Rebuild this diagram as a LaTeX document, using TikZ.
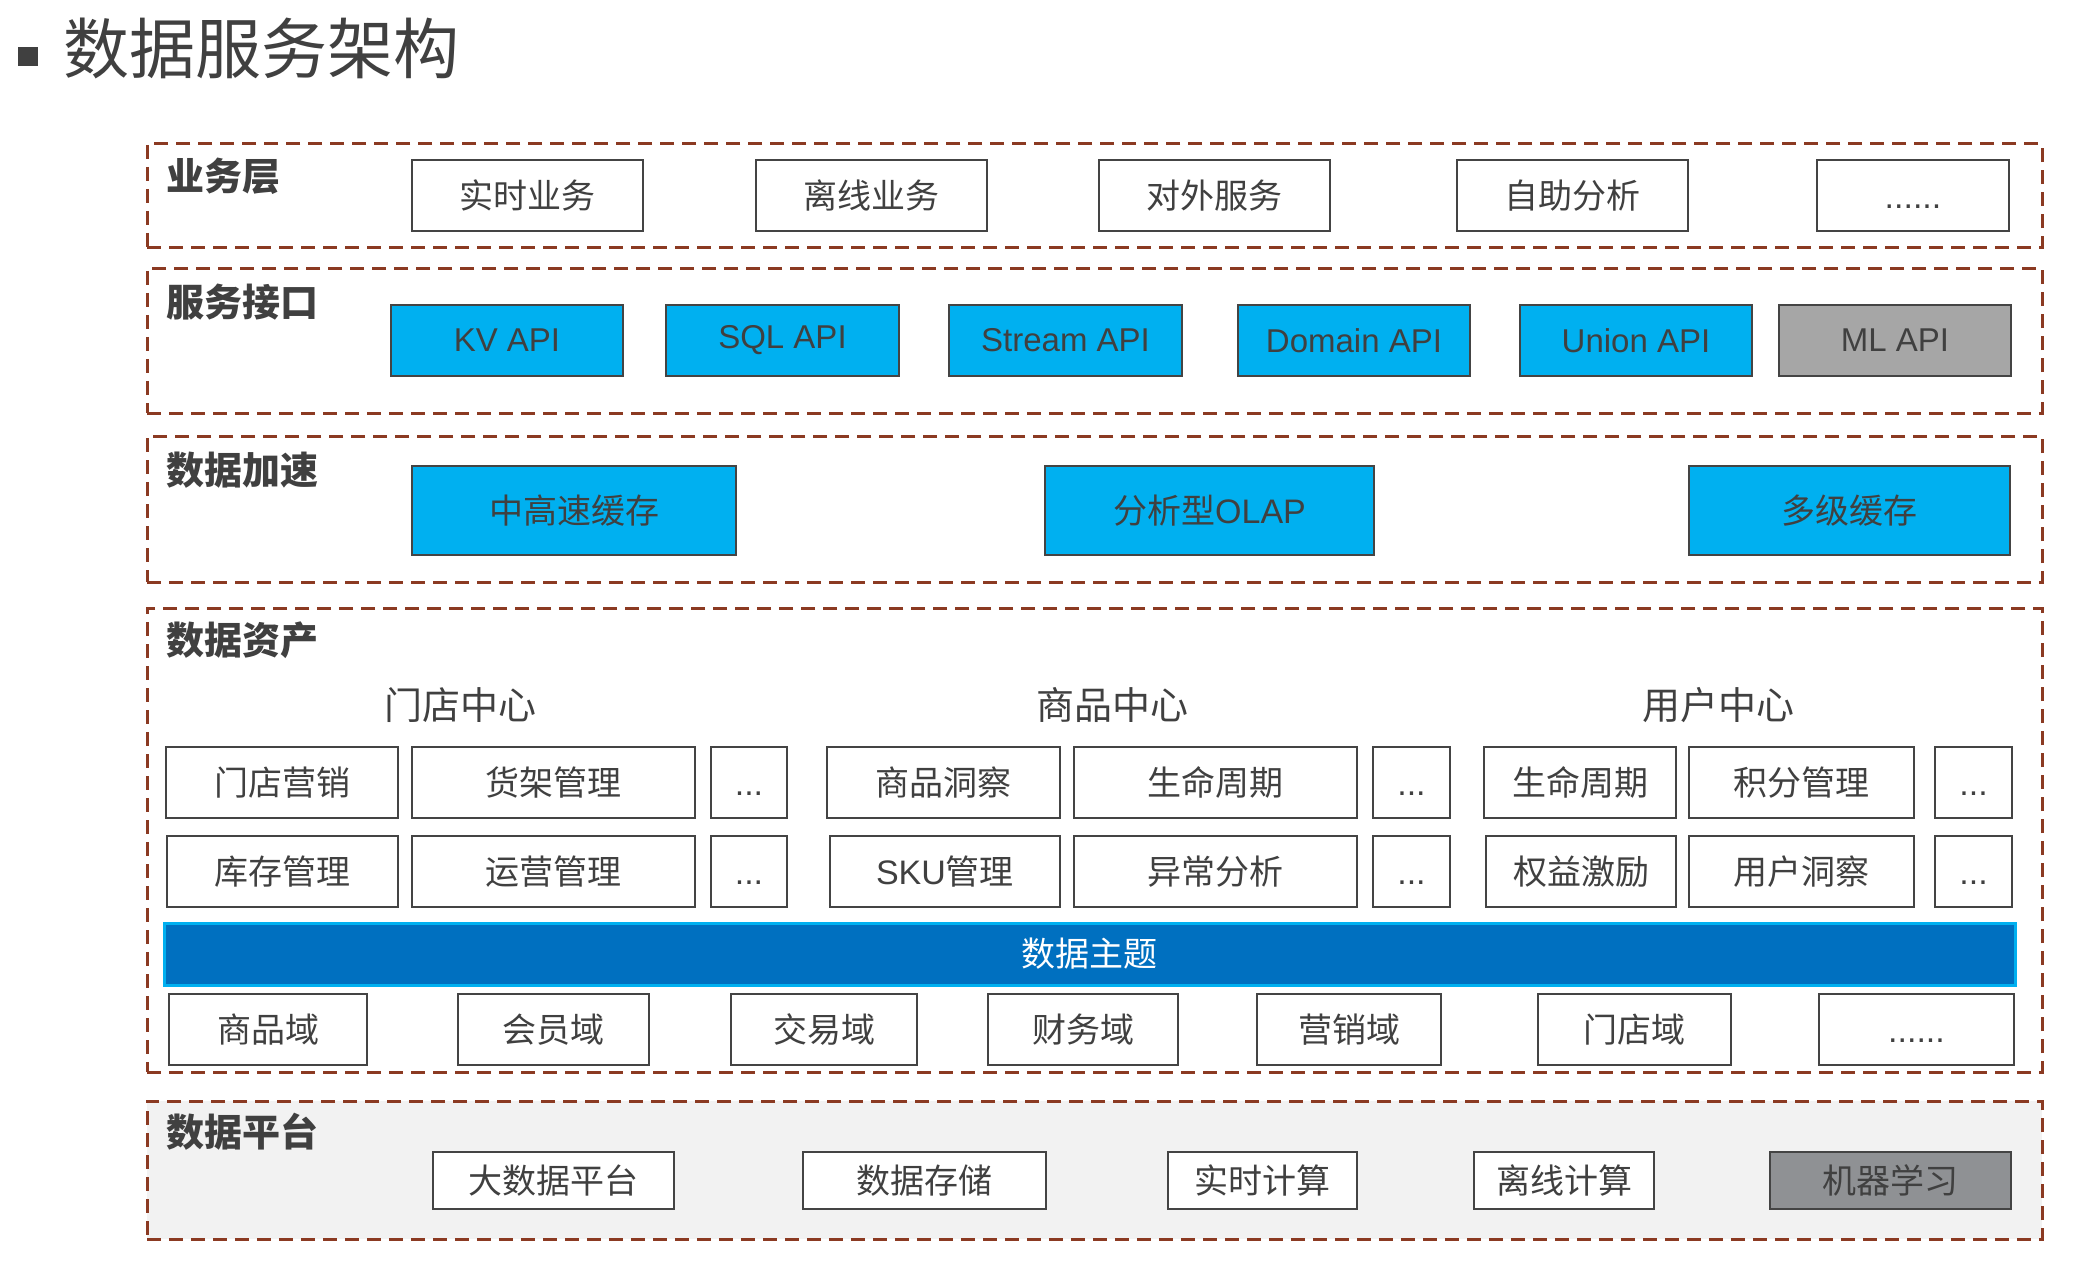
\documentclass[tikz,border=0pt]{standalone}
\usepackage{fontspec}
\setmainfont{Liberation Sans}
\newfontfamily\cjk{Noto Sans CJK SC}
\definecolor{layerc}{HTML}{8B3A22}
\definecolor{boxc}{HTML}{444444}
\definecolor{txt}{HTML}{404040}
\definecolor{bluec}{HTML}{00B0F0}
\definecolor{mlgray}{HTML}{A6A6A6}
\definecolor{mgray}{HTML}{8F9194}
\definecolor{platf}{HTML}{F2F2F2}
\definecolor{barf}{HTML}{0070C0}
\newcommand\mkbox[7]{\node[#6, minimum width={(#4-#2)*0.5pt}, minimum height={(#5-#3)*0.5pt}] (#1) at ({(#2+#4)/2},{(#3+#5)/2}) {#7};}
\newcommand\dotz[1]{{\fontspec{Liberation Sans}#1}}
\newcommand\ellip[1]{\vphantom{理}{\fontspec{Liberation Sans}#1}}
\tikzset{
  layer/.style={draw=layerc, line width=1.5pt, dash pattern=on 7pt off 4pt, inner sep=0pt, outer sep=0pt},
  bx/.style={draw=boxc, line width=1.3pt, fill=white, text=txt, font=\fontsize{17}{20}\selectfont\cjk, inner sep=0pt, outer sep=0pt},
  api/.style={bx, fill=bluec, font=\fontsize{16.5}{20}\selectfont},
  acc/.style={bx, fill=bluec},
  lab/.style={text=txt, font=\fontsize{19}{22}\selectfont\cjk\bfseries, inner sep=0pt, anchor=west},
  ctr/.style={text=txt, font=\fontsize{19}{22}\selectfont\cjk, inner sep=0pt},
  bar/.style={draw=bluec, line width=1.5pt, fill=barf, text=white, font=\fontsize{17}{20}\selectfont\cjk, inner sep=0pt, outer sep=0pt}
}
\begin{document}
\begin{tikzpicture}[x=0.5pt,y=-0.5pt]
\useasboundingbox (0,0) rectangle (2084,1268);
\fill[white] (0,0) rectangle (2084,1268);
% title
\mkbox{tsq}{18}{47}{38}{66}{fill=txt, inner sep=0pt}{}
\node[text=txt, font=\fontsize{33}{38}\selectfont\cjk, inner sep=0pt, anchor=west] (title) at (63,48) {数据服务架构};
% layers
\mkbox{L1}{147}{144}{2042}{247}{layer}{}
\mkbox{L2}{147}{268}{2042}{413}{layer}{}
\mkbox{L3}{147}{436}{2042}{582}{layer}{}
\mkbox{L4}{147}{608}{2042}{1072}{layer}{}
\mkbox{L5}{147}{1101}{2042}{1239}{layer, fill=platf}{}
\node[lab] (l1t) at (166,176) {业务层};
\node[lab] (l2t) at (166,302) {服务接口};
\node[lab] (l3t) at (166,470) {数据加速};
\node[lab] (l4t) at (166,640) {数据资产};
\node[lab] (l5t) at (166,1132) {数据平台};
% layer 1
\mkbox{b1}{412}{160}{643}{231}{bx}{实时业务}
\mkbox{b2}{756}{160}{987}{231}{bx}{离线业务}
\mkbox{b3}{1099}{160}{1330}{231}{bx}{对外服务}
\mkbox{b4}{1457}{160}{1688}{231}{bx}{自助分析}
\mkbox{b5}{1817}{160}{2009}{231}{bx}{\ellip{......}}
% layer 2
\mkbox{a1}{391}{305}{623}{376}{api}{KV API}
\mkbox{a2}{666}{305}{899}{376}{api}{SQL API}
\mkbox{a3}{949}{305}{1182}{376}{api}{Stream API}
\mkbox{a4}{1238}{305}{1470}{376}{api}{Domain API}
\mkbox{a5}{1520}{305}{1752}{376}{api}{Union API}
\mkbox{a6}{1779}{305}{2011}{376}{api, fill=mlgray}{ML API}
% layer 3
\mkbox{c1}{412}{466}{736}{555}{acc}{中高速缓存}
\mkbox{c2}{1045}{466}{1374}{555}{acc}{分析型\dotz{OLAP}}
\mkbox{c3}{1689}{466}{2010}{555}{acc}{多级缓存}
% layer 4 centres
\node[ctr] (g1) at (460,705) {门店中心};
\node[ctr] (g2) at (1112,705) {商品中心};
\node[ctr] (g3) at (1718,705) {用户中心};
% row 1
\mkbox{r11}{166}{747}{398}{818}{bx}{门店营销}
\mkbox{r12}{412}{747}{695}{818}{bx}{货架管理}
\mkbox{r13}{711}{747}{787}{818}{bx}{\ellip{...}}
\mkbox{r14}{827}{747}{1060}{818}{bx}{商品洞察}
\mkbox{r15}{1074}{747}{1357}{818}{bx}{生命周期}
\mkbox{r16}{1373}{747}{1450}{818}{bx}{\ellip{...}}
\mkbox{r17}{1484}{747}{1676}{818}{bx}{生命周期}
\mkbox{r18}{1689}{747}{1914}{818}{bx}{积分管理}
\mkbox{r19}{1935}{747}{2012}{818}{bx}{\ellip{...}}
% row 2
\mkbox{r21}{167}{836}{398}{907}{bx}{库存管理}
\mkbox{r22}{412}{836}{695}{907}{bx}{运营管理}
\mkbox{r23}{711}{836}{787}{907}{bx}{\ellip{...}}
\mkbox{r24}{830}{836}{1060}{907}{bx}{\dotz{SKU}管理}
\mkbox{r25}{1074}{836}{1357}{907}{bx}{异常分析}
\mkbox{r26}{1373}{836}{1450}{907}{bx}{\ellip{...}}
\mkbox{r27}{1486}{836}{1676}{907}{bx}{权益激励}
\mkbox{r28}{1689}{836}{1914}{907}{bx}{用户洞察}
\mkbox{r29}{1935}{836}{2012}{907}{bx}{\ellip{...}}
% bar
\mkbox{theme}{164}{923}{2015}{985}{bar}{数据主题}
% domains
\mkbox{d1}{169}{994}{367}{1065}{bx}{商品域}
\mkbox{d2}{458}{994}{649}{1065}{bx}{会员域}
\mkbox{d3}{731}{994}{917}{1065}{bx}{交易域}
\mkbox{d4}{988}{994}{1178}{1065}{bx}{财务域}
\mkbox{d5}{1257}{994}{1441}{1065}{bx}{营销域}
\mkbox{d6}{1538}{994}{1731}{1065}{bx}{门店域}
\mkbox{d7}{1819}{994}{2014}{1065}{bx}{\ellip{......}}
% layer 5
\mkbox{p1}{433}{1152}{674}{1209}{bx}{大数据平台}
\mkbox{p2}{803}{1152}{1046}{1209}{bx}{数据存储}
\mkbox{p3}{1168}{1152}{1357}{1209}{bx}{实时计算}
\mkbox{p4}{1474}{1152}{1654}{1209}{bx}{离线计算}
\mkbox{p5}{1770}{1152}{2011}{1209}{bx, fill=mgray}{机器学习}
\end{tikzpicture}
\end{document}
